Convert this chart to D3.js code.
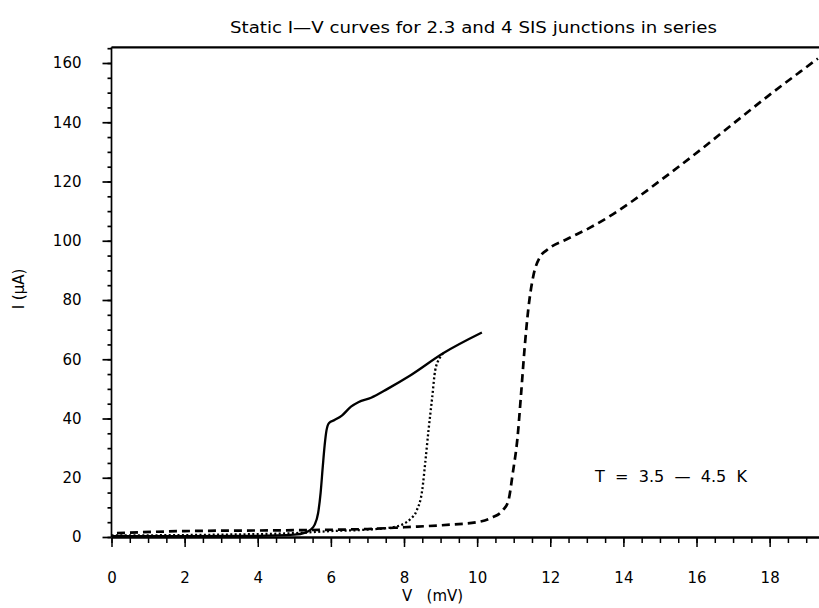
<!DOCTYPE html>
<html><head><meta charset="utf-8">
<script src="https://cdn.jsdelivr.net/npm/d3@7/dist/d3.min.js"></script>
<style>
body{margin:0;background:#fff;}
svg text{font-family:"DejaVu Sans",sans-serif;fill:#000;}
</style></head>
<body><svg id="c" width="819" height="608"></svg>
<script>
// ---- data ----
const titleText = "Static I\u2014V curves for 2.3 and 4 SIS junctions in series";
const xLabelText = "V   (mV)";
const yLabelText = "I (\u00b5A)";
const noteText = "T  =  3.5  \u2014  4.5  K";
const xMajorTicks = [0, 2, 4, 6, 8, 10, 12, 14, 16, 18];
const yMajorTicks = [0, 20, 40, 60, 80, 100, 120, 140, 160];

// 2 junctions (solid)
const v2 = [0, 2, 4, 5, 5.3, 5.45, 5.55, 5.65, 5.72, 5.78, 5.83, 5.88, 5.95, 6.1, 6.3, 6.55, 6.75, 7.1, 7.55, 8.17, 9.07, 10.13];
const i2 = [0.3, 0.3, 0.4, 0.8, 1.5, 2.5, 4, 8, 15, 24, 31, 36, 38.5, 39.5, 41, 44, 45.5, 47, 50, 54.5, 62, 69];
// 3 junctions (dotted)
const v3 = [0, 3, 5, 6, 7, 7.7, 8.0, 8.17, 8.35, 8.5, 8.58, 8.67, 8.77, 8.85, 8.98, 9.07];
const i3 = [0.5, 0.8, 1.3, 2.0, 2.5, 3.3, 4.5, 6, 9, 16, 25, 36, 47, 56, 60.5, 62];
// 4 junctions (dashed)
const v4 = [0.15, 2, 5, 7, 8, 9.3, 10, 10.4, 10.7, 10.85, 10.98, 11.1, 11.2, 11.3, 11.4, 11.53, 11.72, 11.9, 12.45, 13.1, 13.72, 14.26, 15.19, 16.09, 17, 17.92, 18.83, 19.32];
const i4 = [1.3, 2.0, 2.3, 2.7, 3.3, 4.2, 5, 6.5, 9, 12, 22, 33, 48, 64, 77, 87.7, 94.5, 96.8, 100.5, 104.5, 109, 113.5, 122, 130.5, 139.5, 148.5, 157, 161.5];

// ---- layout ----
const svg = d3.select("#c");
const x = d3.scaleLinear().domain([0, 19.35]).range([111.5, 819]);
const y = d3.scaleLinear().domain([0, 160]).range([537, 63]);
const yTop = y(165.3);

// frame
svg.append("line").attr("x1", x(0)).attr("x2", 819).attr("y1", yTop).attr("y2", yTop)
  .attr("stroke", "#000").attr("stroke-width", 2.2);
svg.append("line").attr("x1", x(0)).attr("x2", x(0)).attr("y1", yTop).attr("y2", y(0))
  .attr("stroke", "#000").attr("stroke-width", 1.7);
svg.append("line").attr("x1", x(0)).attr("x2", 819).attr("y1", y(0) + 0.5).attr("y2", y(0) + 0.5)
  .attr("stroke", "#000").attr("stroke-width", 2.6);

// y axis
const yMinor = d3.axisLeft(y).tickValues(d3.range(0, 166, 5)).tickSize(4).tickFormat("");
const gyMin = svg.append("g").attr("transform", `translate(${x(0)},0)`).call(yMinor);
const yMajor = d3.axisLeft(y).tickValues(yMajorTicks).tickSize(9).tickPadding(21).tickFormat(d3.format("d"));
const gy = svg.append("g").attr("transform", `translate(${x(0)},0)`).call(yMajor);
[gyMin, gy].forEach(g => { g.select(".domain").remove(); g.selectAll("line").attr("stroke", "#000").attr("stroke-width", 1.7); });
gy.selectAll("text").style("font-size", "15px").attr("fill", "#000");

// x axis
const xMinor = d3.axisBottom(x).tickValues(d3.range(0, 19.01, 0.5)).tickSize(5).tickFormat("");
const gxMin = svg.append("g").attr("transform", `translate(0,${y(0) + 1})`).call(xMinor);
const xMajor = d3.axisBottom(x).tickValues(xMajorTicks).tickSize(9).tickPadding(25).tickFormat(d3.format("d"));
const gx = svg.append("g").attr("transform", `translate(0,${y(0) + 1})`).call(xMajor);
[gxMin, gx].forEach(g => { g.select(".domain").remove(); g.selectAll("line").attr("stroke", "#000").attr("stroke-width", 1.5); });
gx.selectAll("text").style("font-size", "15px").attr("fill", "#000");

// curves
const line = d3.line().x(d => x(d[0])).y(d => y(d[1])).curve(d3.curveMonotoneX);
const s2 = v2.map((v, k) => [v, i2[k]]);
const s3 = v3.map((v, k) => [v, i3[k]]);
const s4 = v4.map((v, k) => [v, i4[k]]);
svg.append("path").datum(s4).attr("d", line).attr("fill", "none").attr("stroke", "#000")
  .attr("stroke-width", 2.7).attr("stroke-dasharray", "8,5");
svg.append("path").datum(s3).attr("d", line).attr("fill", "none").attr("stroke", "#000")
  .attr("stroke-width", 2.3).attr("stroke-dasharray", "2,2.4");
svg.append("path").datum(s2).attr("d", line).attr("fill", "none").attr("stroke", "#000")
  .attr("stroke-width", 2.3);

// texts
svg.append("text").attr("x", 230).attr("y", 33).attr("textLength", 487).attr("lengthAdjust", "spacingAndGlyphs")
  .style("font-size", "15.5px").text(titleText);
svg.append("text").attr("x", 402).attr("y", 601).style("font-size", "15px").style("white-space", "pre")
  .attr("xml:space", "preserve").text(xLabelText);
svg.append("text").attr("transform", "translate(24,289) rotate(-90)").attr("text-anchor", "middle")
  .style("font-size", "15px").text(yLabelText);
svg.append("text").attr("x", 595).attr("y", 482).attr("textLength", 152).attr("lengthAdjust", "spacingAndGlyphs")
  .style("font-size", "15px").style("white-space", "pre").attr("xml:space", "preserve").text(noteText);
</script></body></html>
